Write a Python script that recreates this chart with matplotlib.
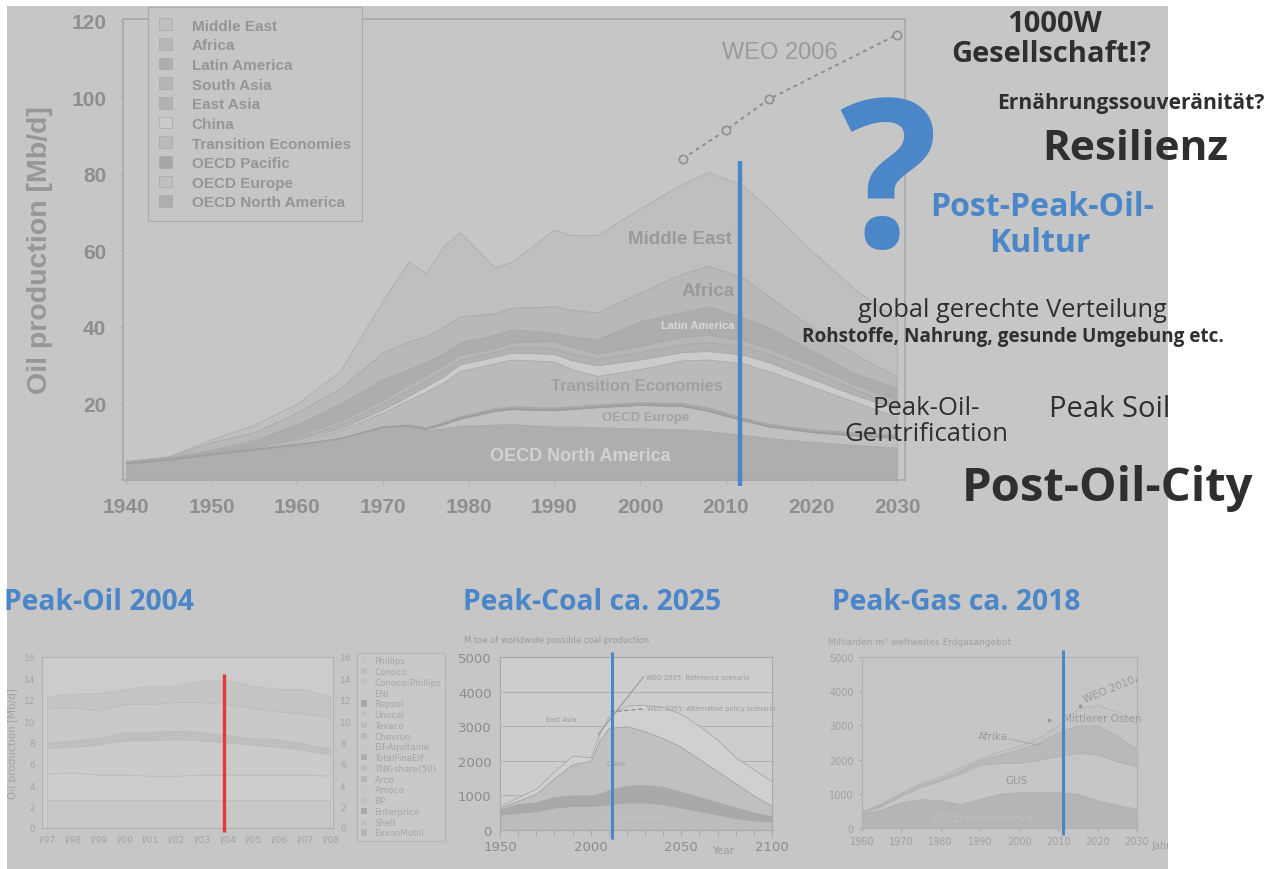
import matplotlib
matplotlib.use('Agg')
import matplotlib.pyplot as plt
import numpy as np
from matplotlib.patches import Rectangle, Patch
from matplotlib.transforms import Bbox, TransformedBbox

W, H = 1274, 870
BG = '#c6c6c6'
BLUE = '#4a86c8'
DARK = '#2f2f2f'
LABEL = '#8e8e8e'
CHART_FONT = 'Liberation Sans'
SLIDE_FONT = 'Open Sans'

# ---- main chart: world oil production by region (cumulative tops, Mb/d)
years = [1940, 1945, 1950, 1955, 1960, 1965, 1970, 1973, 1975, 1977, 1979, 1983,
         1985, 1990, 1992, 1995, 2000, 2005, 2008, 2012, 2015, 2020, 2025, 2030]
na_top = [4.2, 5.2, 6.5, 7.8, 8.9, 10.5, 13.5, 14.0, 13.0, 13.5, 14.2, 14.5,
          14.6, 14.0, 14.0, 13.8, 13.5, 13.3, 12.8, 11.8, 11.0, 10.0, 9.2, 8.5]
eur_top = [4.3, 5.3, 6.7, 8.0, 9.2, 10.8, 13.8, 14.2, 13.3, 14.5, 16.0, 18.0,
           18.5, 18.2, 18.5, 19.0, 19.6, 19.3, 18.0, 15.6, 14.0, 12.5, 11.6, 11.0]
pac_top = [4.4, 5.4, 6.8, 8.1, 9.4, 11.0, 14.1, 14.6, 13.8, 15.2, 16.8, 18.8,
           19.3, 19.0, 19.3, 19.8, 20.4, 20.2, 19.0, 16.4, 14.8, 13.3, 12.5, 12.0]
trans_top = [4.6, 5.6, 7.0, 8.5, 10.0, 13.0, 17.7, 21.0, 23.0, 25.5, 28.5, 30.5,
             31.5, 31.0, 29.0, 27.2, 29.0, 31.3, 31.5, 30.5, 28.5, 24.5, 20.5, 16.5]
china_top = [4.6, 5.6, 7.1, 8.7, 10.5, 13.5, 18.5, 22.0, 24.5, 27.0, 30.3, 32.2,
             33.3, 33.0, 31.3, 30.0, 31.5, 33.5, 33.7, 32.8, 30.8, 26.5, 22.3, 18.5]
easia_top = [4.7, 5.7, 7.3, 9.0, 11.0, 14.5, 20.0, 23.5, 26.0, 28.5, 31.5, 33.5,
             34.8, 34.5, 33.0, 31.7, 33.5, 35.5, 36.0, 35.0, 33.0, 28.5, 23.8, 19.5]
sasia_top = [4.8, 5.8, 7.5, 9.3, 11.6, 15.5, 21.0, 25.0, 27.5, 30.0, 32.8, 34.5,
             36.0, 36.3, 34.8, 33.0, 35.0, 37.5, 38.0, 36.5, 34.5, 30.0, 25.0, 21.0]
latam_top = [4.9, 6.0, 8.0, 10.5, 14.6, 20.0, 26.4, 29.0, 30.8, 33.0, 36.0, 38.0,
             39.4, 38.5, 37.5, 36.8, 41.5, 44.0, 45.4, 42.5, 40.0, 34.0, 28.0, 24.0]
africa_top = [4.9, 6.1, 9.9, 12.5, 17.7, 24.0, 33.4, 36.3, 37.5, 40.0, 42.8, 43.5,
              45.0, 45.4, 44.5, 43.8, 49.0, 54.0, 56.0, 53.0, 48.0, 40.0, 33.0, 27.0]
me_top = [5.0, 6.2, 10.7, 14.5, 20.0, 28.5, 47.0, 57.2, 54.0, 61.0, 64.7, 55.6,
          57.0, 65.5, 64.0, 64.0, 71.0, 77.5, 80.5, 77.0, 71.0, 60.0, 50.0, 42.0]
regions = ['OECD North America', 'OECD Europe', 'OECD Pacific', 'Transition Economies',
           'China', 'East Asia', 'South Asia', 'Latin America', 'Africa', 'Middle East']
region_colors = ['#aeaeae', '#c0c0c0', '#a6a6a6', '#bababa', '#cbcbcb',
                 '#b2b2b2', '#b6b6b6', '#adadad', '#b8b8b8', '#bfbfbf']
weo_years = [2005, 2010, 2015, 2030]
weo_values = [84, 91.4, 99.5, 116.4]

# ---- small chart 1: company production (cumulative tops, Mb/d)
q_years = [1997, 1998, 1999, 2000, 2001, 2002, 2003, 2004, 2005, 2006, 2007, 2008]
co_l1 = [2.6, 2.6, 2.6, 2.6, 2.6, 2.6, 2.6, 2.6, 2.6, 2.6, 2.6, 2.6]
co_l2 = [5.1, 5.2, 5.0, 5.0, 4.9, 4.9, 5.0, 5.0, 5.0, 5.0, 5.0, 4.9]
co_l3 = [7.5, 7.6, 7.8, 8.2, 8.2, 8.3, 8.2, 8.0, 7.8, 7.6, 7.3, 6.9]
co_l4 = [8.0, 8.2, 8.4, 9.0, 9.0, 9.1, 9.0, 8.7, 8.4, 8.3, 7.9, 7.4]
co_l5 = [11.2, 11.3, 11.0, 11.6, 11.6, 11.8, 11.8, 11.6, 11.2, 10.9, 10.7, 10.4]
co_l6 = [12.3, 12.6, 12.6, 13.0, 13.3, 13.3, 13.8, 13.8, 13.3, 13.0, 13.0, 12.3]
companies = ['Phillips', 'Conoco', 'Conoco-Phillips', 'ENI', 'Repsol', 'Unocal', 'Texaco',
             'Chevron', 'Elf-Aquitaine', 'TotalFinaElf', 'TNK-share(50)', 'Arco', 'Amoco',
             'BP', 'Enterprice', 'Shell', 'ExxonMobil']
q_labels = ['I/97', 'I/98', 'I/99', 'I/00', 'I/01', 'I/02', 'I/03', 'I/04',
            'I/05', 'I/06', 'I/07', 'I/08']

# ---- small chart 2: coal (cumulative tops, Mtoe)
coal_years = [1950, 1960, 1970, 1980, 1990, 2000, 2005, 2010, 2020, 2030, 2040,
              2050, 2060, 2070, 2080, 2090, 2100]
coal_a = [450, 500, 550, 650, 700, 700, 720, 750, 800, 800, 750, 650, 550, 450, 350, 280, 250]
coal_b = [600, 750, 800, 950, 1000, 1000, 1050, 1150, 1280, 1300, 1250, 1100, 950, 800, 650, 500, 400]
coal_c = [650, 850, 1050, 1500, 1900, 2000, 2600, 2950, 3000, 2850, 2650, 2400, 2050, 1700, 1350, 1000, 700]
coal_d = [700, 950, 1200, 1700, 2150, 2100, 2800, 3300, 3600, 3620, 3550, 3350, 3000, 2600, 2100, 1750, 1400]

# ---- small chart 3: gas (cumulative tops, bn m3)
gas_years = [1960, 1965, 1970, 1975, 1980, 1985, 1990, 1995, 2000, 2005, 2010, 2015, 2020, 2025, 2030]
gas_oecd = [420, 550, 760, 850, 810, 700, 850, 1000, 1050, 1050, 1050, 1000, 810, 680, 560]
gas_gus = [450, 650, 950, 1200, 1390, 1600, 1850, 1900, 1900, 2000, 2100, 2200, 2150, 1950, 1800]
gas_me = [470, 700, 1000, 1280, 1450, 1700, 1980, 2150, 2300, 2500, 2800, 3000, 3000, 2700, 2300]
gas_all = [490, 730, 1050, 1320, 1520, 1780, 2030, 2250, 2400, 2650, 3000, 3500, 3600, 3400, 3050]


def px_axes(x0, y0, x1, y1):
    return fig.add_axes([x0 / W, 1 - y1 / H, (x1 - x0) / W, (y1 - y0) / H])


def ftxt(x, y, s, **kw):
    return fig.text(x / W, 1 - y / H, s, ha='center', va='center', **kw)


def style_small(ax, color='#b2b2b2'):
    ax.set_facecolor('none')
    for sp in ax.spines.values():
        sp.set_color(color)
        sp.set_linewidth(0.8)


fig = plt.figure(figsize=(W / 100, H / 100), dpi=100, facecolor='white')
bg = Rectangle((7 / W, 0), (1168 - 7) / W, (H - 7) / H, transform=fig.transFigure,
               facecolor=BG, edgecolor='none', zorder=-10)
fig.patches.append(bg)

# ================= main chart
ax = px_axes(123, 20, 905, 481)
ax.set_facecolor('none')
tops = [na_top, eur_top, pac_top, trans_top, china_top, easia_top, sasia_top,
        latam_top, africa_top, me_top]
lower = np.zeros(len(years))
handles = []
for name, top, col in zip(regions, tops, region_colors):
    h = ax.fill_between(years, lower, top, facecolor=col, edgecolor='#a9a9a9',
                        linewidth=0.5, label=name)
    handles.append(h)
    lower = np.array(top)
ax.plot(years, eur_top, color='#9c9c9c', linewidth=1.0)
ax.plot(weo_years, weo_values, color='#8e8e8e', linestyle=(0, (2, 2)), linewidth=1.4,
        marker='o', markersize=6, markerfacecolor=BG, markeredgecolor='#8e8e8e',
        markeredgewidth=1.2)
ax.vlines(2011.7, -1.6, 83.3, color=BLUE, linewidth=3.2, clip_on=False, zorder=5)
ax.set_xlim(1939.65, 2030.93)
ax.set_ylim(0, 120.5)
ax.set_xticks(range(1940, 2031, 10))
ax.set_yticks([20, 40, 60, 80, 100, 120])
ax.tick_params(axis='both', colors='#b0b0b0', labelcolor=LABEL, length=3, width=0.8,
               labelsize=15, pad=9)
for lab in ax.get_xticklabels() + ax.get_yticklabels():
    lab.set_fontweight('bold')
    lab.set_family(CHART_FONT)
for sp in ax.spines.values():
    sp.set_color('#aaaaaa')
    sp.set_linewidth(1.3)
ax.set_ylabel('Oil production [Mb/d]', fontsize=20.5, fontweight='bold', color='#979797',
              family=CHART_FONT, labelpad=13)

lab_kw = dict(family=CHART_FONT, fontweight='bold', ha='center', va='center')
ax.text(2004.7, 63.2, 'Middle East', fontsize=13.5, color='#9a9a9a', **lab_kw)
ax.text(2008.0, 49.6, 'Africa', fontsize=13.5, color='#9a9a9a', **lab_kw)
ax.text(2006.7, 40.6, 'Latin America', fontsize=8, color='#d8d8d8', **lab_kw)
ax.text(1999.6, 24.8, 'Transition Economies', fontsize=12, color='#a0a0a0', **lab_kw)
ax.text(2000.6, 16.4, 'OECD Europe', fontsize=9.5, color='#a2a2a2', **lab_kw)
ax.text(1993.0, 6.3, 'OECD North America', fontsize=13, color='#d2d2d2', **lab_kw)
ax.text(2016.3, 112.0, 'WEO 2006', fontsize=17, color='#9a9a9a', family=CHART_FONT,
        ha='center', va='center')

leg = ax.legend(handles=handles[::-1], loc='upper left', bbox_to_anchor=(148 / W, 1 - 8 / H),
                bbox_transform=fig.transFigure, borderaxespad=0, fancybox=False,
                facecolor=BG, edgecolor='#ababab', framealpha=1,
                prop={'family': CHART_FONT, 'weight': 'bold', 'size': 11},
                handlelength=0.8, handleheight=0.8, handletextpad=1.3,
                labelspacing=0.36, borderpad=0.75)
leg.get_frame().set_linewidth(0.8)
for t in leg.get_texts():
    t.set_color('#959595')

# ================= panel 1: Peak-Oil 2004
a1 = px_axes(42, 658, 333, 829)
style_small(a1)
a1.set_facecolor('#cccccc')
oil_tops = [co_l1, co_l2, co_l3, co_l4, co_l5, co_l6]
oil_cols = ['#c8c8c8', '#cdcdcd', '#cbcbcb', '#bfbfbf', '#c9c9c9', '#c4c4c4']
lower = np.zeros(len(q_years))
for top, col in zip(oil_tops, oil_cols):
    a1.fill_between(q_years, lower, top, facecolor=col, edgecolor='#bbbbbb', linewidth=0.5)
    lower = np.array(top)
a1.vlines(2003.85, -0.4, 14.4, color='#e03a3a', linewidth=2.4, clip_on=False, zorder=5)
a1.set_xlim(1996.8, 2008.1)
a1.set_ylim(0, 16)
a1.set_yticks(range(0, 17, 2))
a1.set_xticks(q_years)
a1.set_xticklabels(q_labels)
a1.tick_params(colors='#b5b5b5', labelcolor='#a3a3a3', labelsize=6.5, length=0, pad=5,
               labelright=True)
a1.set_ylabel('Oil production [Mb/d]', fontsize=7.5, color='#a3a3a3', labelpad=4)
oil_leg_cols = ['#c4c4c4', '#bdbdbd', '#c2c2c2', '#c8c8c8', '#a8a8a8', '#c0c0c0', '#bebebe',
                '#b8b8b8', '#c6c6c6', '#adadad', '#bcbcbc', '#b6b6b6', '#c6c6c6', '#c2c2c2',
                '#a9a9a9', '#c0c0c0', '#b4b4b4']
leg1 = a1.legend(handles=[Patch(facecolor=c, label=n) for n, c in zip(companies, oil_leg_cols)],
                 loc='upper left', bbox_to_anchor=(357 / W, 1 - 654 / H),
                 bbox_transform=fig.transFigure, borderaxespad=0, fancybox=False,
                 facecolor='#c9c9c9', edgecolor='#b8b8b8', framealpha=1, fontsize=6.3,
                 handlelength=0.7, handleheight=0.7, handletextpad=0.9, labelspacing=0.2,
                 borderpad=0.4)
for t in leg1.get_texts():
    t.set_color('#a6a6a6')

# ================= panel 2: Peak-Coal
a2 = px_axes(500, 658, 772, 831)
style_small(a2, '#a9a9a9')
a2.set_facecolor('#cdcdcd')
coal_tops = [coal_a, coal_b, coal_c, coal_d]
coal_cols = ['#bcbcbc', '#a9a9a9', '#c0c0c0', '#d0d0d0']
lower = np.zeros(len(coal_years))
for top, col in zip(coal_tops, coal_cols):
    a2.fill_between(coal_years, lower, top, facecolor=col, edgecolor='#a8a8a8', linewidth=0.6)
    lower = np.array(top)
a2.plot([2004, 2029], [2750, 4420], color='#9a9a9a', linewidth=0.8)
a2.plot([2011, 2030], [3420, 3500], color='#8f8f8f', linewidth=1.0, linestyle=(0, (3, 2)))
a2.vlines(2011.5, -250, 5150, color=BLUE, linewidth=2.2, clip_on=False, zorder=5)
a2.set_xlim(1950, 2100)
a2.set_ylim(0, 5000)
a2.set_xticks([1950, 2000, 2050, 2100])
a2.set_xticks(range(1950, 2101, 10), minor=True)
a2.set_yticks(range(0, 5001, 1000))
a2.grid(axis='y', color='#b0b0b0', linewidth=0.8)
a2.set_axisbelow(True)
a2.tick_params(colors='#a5a5a5', labelcolor='#8c8c8c', labelsize=9.5, length=4)
a2.tick_params(axis='y', length=0, pad=6)
a2.tick_params(axis='x', which='minor', length=4, colors='#a5a5a5')
tiny = dict(fontsize=4.8, color='#9c9c9c')
a2.text(2030.5, 4420, 'WEO 2005: Reference scenario', ha='left', va='center', **tiny)
a2.text(2031, 3520, 'WEO 2005: Alternative policy scenario', ha='left', va='center', **tiny)
a2.text(1984, 3200, 'East Asia', ha='center', va='center', **tiny)
a2.text(2014, 1950, 'China', ha='center', va='center', **tiny)
a2.text(2024, 380, 'OECD North America', ha='center', va='center', fontsize=4.8, color='#c4c4c4')
ftxt(557, 641, 'M toe of worldwide possible coal production', fontsize=6, color='#9a9a9a')
ftxt(723, 851, 'Year', fontsize=7.5, color='#9a9a9a')

# ================= panel 3: Peak-Gas
a3 = px_axes(862, 658, 1137, 829)
style_small(a3, '#b0b0b0')
gas_tops = [gas_oecd, gas_gus, gas_me, gas_all]
gas_cols = ['#b5b5b5', '#c6c6c6', '#b9b9b9', '#c4c4c4']
lower = np.zeros(len(gas_years))
for top, col in zip(gas_tops, gas_cols):
    a3.fill_between(gas_years, lower, top, facecolor=col, edgecolor='#b0b0b0', linewidth=0.5)
    lower = np.array(top)
a3.plot([2007.5, 2015.5, 2030], [3170, 3560, 4330], linestyle='none', marker='o',
        markersize=1.8, color='#999999')
a3.vlines(2011.1, -200, 5200, color=BLUE, linewidth=2.2, clip_on=False, zorder=5)
a3.set_xlim(1960, 2030)
a3.set_ylim(0, 5000)
a3.set_xticks(range(1960, 2031, 10))
a3.set_yticks(range(0, 5001, 1000))
a3.tick_params(colors='#a8a8a8', labelcolor='#a0a0a0', labelsize=7, length=2.5)
gtxt = dict(fontsize=7.5, color='#9a9a9a', va='center')
a3.text(1993.3, 2690, 'Afrika', ha='center', **gtxt)
a3.plot([1997.5, 2005], [2600, 2420], color='#a0a0a0', linewidth=0.6)
a3.text(1999.2, 1400, 'GUS', ha='center', **gtxt)
a3.text(2011.1, 3220, 'Mittlerer Osten', ha='left', **gtxt)
a3.text(2023, 4060, 'WEO 2010', ha='center', rotation=22, **gtxt)
a3.text(1990.8, 290, 'OECD Nordamerika', ha='center', fontsize=7.5, color='#c0c0c0', va='center')
ftxt(858, 643, 'Milliarden m³', fontsize=6.5, color='#a0a0a0')
ftxt(951, 643, 'weltweites Erdgasangebot', fontsize=6.5, color='#a0a0a0')
jahr = ftxt(1161, 846, 'Jahr', fontsize=7, color='#a0a0a0')
jahr.set_clip_box(TransformedBbox(Bbox([[0, 0], [1168 / W, 1]]), fig.transFigure))
jahr.set_clip_on(True)

# ================= slide keywords
title_kw = dict(fontsize=20.3, color=BLUE, fontweight='bold', family=SLIDE_FONT)
ftxt(99, 603, 'Peak-Oil 2004', **title_kw)
ftxt(592, 603, 'Peak-Coal ca. 2025', **title_kw)
ftxt(956, 603, 'Peak-Gas ca. 2018', **title_kw)

sk = dict(family=SLIDE_FONT, color=DARK)
ftxt(1055, 25, '1000W', fontsize=21, fontweight='bold', **sk)
ftxt(1051, 55, 'Gesellschaft!?', fontsize=21, fontweight='bold', **sk)
ftxt(1131, 103, 'Ernährungssouveränität?', fontsize=15.2, fontweight='bold', **sk)
ftxt(1135, 150, 'Resilienz', fontsize=30.5, fontweight='bold', **sk)
ftxt(888, 194, '?', fontsize=148, fontweight='bold', color=BLUE, family=SLIDE_FONT)
ftxt(1042, 208, 'Post-Peak-Oil-', fontsize=23, fontweight='bold', color=BLUE, family=SLIDE_FONT)
ftxt(1040, 243, 'Kultur', fontsize=23, fontweight='bold', color=BLUE, family=SLIDE_FONT)
ftxt(1012, 311, 'global gerechte Verteilung', fontsize=18.3, **sk)
ftxt(1013, 337, 'Rohstoffe, Nahrung, gesunde Umgebung etc.', fontsize=13.6, fontweight='bold', **sk)
ftxt(926, 409, 'Peak-Oil-', fontsize=18.5, **sk)
ftxt(926, 435, 'Gentrification', fontsize=18.5, **sk)
ftxt(1110, 410, 'Peak Soil', fontsize=21, **sk)
ftxt(1108, 489, 'Post-Oil-City', fontsize=34, fontweight='bold', **sk)

fig.savefig('out.png', dpi=100, facecolor='white')
